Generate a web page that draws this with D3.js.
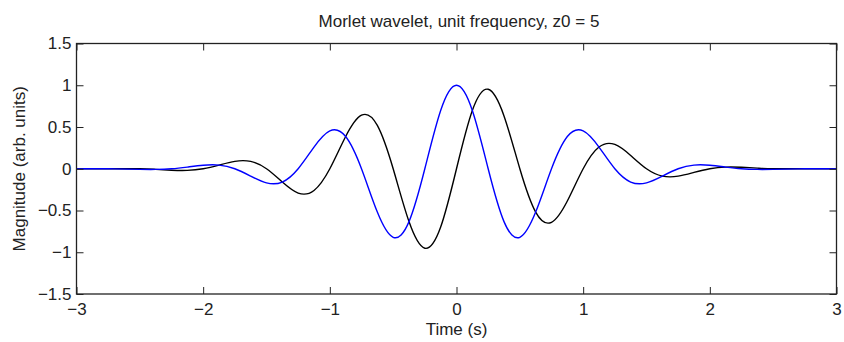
<!DOCTYPE html>
<html>
<head>
<meta charset="utf-8">
<script src="https://cdn.jsdelivr.net/npm/d3@7"></script>
<style>
  body { margin: 0; background: #fff; }
  text { font-family: "Liberation Sans", Arial, sans-serif; fill: #222; }
  .axis path { display: none; }
  .axis line { stroke: #222; stroke-width: 1; }
</style>
</head>
<body>
<script>
/** data */
var time = [-3, -2.75, -2.5, -2.375, -2.25, -2.125, -2, -1.875, -1.75, -1.625, -1.5, -1.375, -1.25, -1.125,
    -1, -0.875, -0.75, -0.625, -0.5, -0.375, -0.25, -0.125, 0, 0.125, 0.25, 0.375, 0.5, 0.625, 0.75, 0.875,
    1, 1.125, 1.25, 1.375, 1.5, 1.625, 1.75, 1.875, 2, 2.125, 2.25, 2.375, 2.5, 2.75, 3];

// blue curve (real part)
var realPart = [0, 0, -0.007, -0.008, 0, 0.02, 0.042, 0.044, 0, -0.088, -0.169, -0.159, 0, 0.26,
    0.454, 0.386, 0, -0.519, -0.821, -0.633, 0, 0.698, 1, 0.698, 0, -0.633, -0.821, -0.519, 0, 0.386,
    0.454, 0.26, 0, -0.159, -0.169, -0.088, 0, 0.044, 0.042, 0.02, 0, -0.008, -0.007, 0, 0];

// black curve (imaginary part)
var imagPart = [0, 0, 0, -0.008, -0.018, -0.02, 0, 0.044, 0.089, 0.088, 0, -0.159, -0.291, -0.26,
    0, 0.386, 0.641, 0.519, 0, -0.633, -0.952, -0.698, 0, 0.698, 0.952, 0.633, 0, -0.519, -0.641, -0.386,
    0, 0.26, 0.291, 0.159, 0, -0.088, -0.089, -0.044, 0, 0.02, 0.018, 0.008, 0, 0, 0];

var xTicks = [-3, -2, -1, 0, 1, 2, 3];
var yTicks = [-1.5, -1, -0.5, 0, 0.5, 1, 1.5];

var title = "Morlet wavelet, unit frequency, z0 = 5";
var xLabel = "Time (s)";
var yLabel = "Magnitude (arb. units)";

/** sizes and scales */
var margin = { top: 43.5, right: 7.5, bottom: 48, left: 76.5 },
    width = 844 - margin.left - margin.right,
    height = 342 - margin.top - margin.bottom;

var x = d3.scaleLinear().domain([-3, 3]).range([0, width]);
var y = d3.scaleLinear().domain([-1.5, 1.5]).range([height, 0]);

var fmt = function (d) { return d3.format("")(d).replace("-", "\u2212"); };

var svg = d3.select("body").append("svg")
    .attr("width", 844)
    .attr("height", 342);

var g = svg.append("g")
    .attr("transform", "translate(" + margin.left + "," + margin.top + ")");

/** curves */
var line = d3.line()
    .x(function (d, i) { return x(time[i]); })
    .y(function (d) { return y(d); })
    .curve(d3.curveNatural);

g.append("path")
    .datum(imagPart)
    .attr("d", line)
    .attr("fill", "none")
    .attr("stroke", "#000")
    .attr("stroke-width", 1.4);

g.append("path")
    .datum(realPart)
    .attr("d", line)
    .attr("fill", "none")
    .attr("stroke", "#0000ff")
    .attr("stroke-width", 1.4);

/** axes, ticks pointing inwards */
g.append("g").attr("class", "x axis")
    .attr("transform", "translate(0," + height + ")")
    .call(d3.axisBottom(x).tickValues(xTicks).tickFormat(fmt).tickSizeInner(-7).tickSizeOuter(0).tickPadding(9));

g.append("g").attr("class", "axis")
    .call(d3.axisTop(x).tickValues(xTicks).tickFormat("").tickSizeInner(-7).tickSizeOuter(0));

g.append("g").attr("class", "y axis")
    .call(d3.axisLeft(y).tickValues(yTicks).tickFormat(fmt).tickSizeInner(-7).tickSizeOuter(0).tickPadding(5));

g.append("g").attr("class", "axis")
    .attr("transform", "translate(" + width + ",0)")
    .call(d3.axisRight(y).tickValues(yTicks).tickFormat("").tickSizeInner(-7).tickSizeOuter(0));

g.selectAll(".axis text")
    .style("font-size", "17px")
    .attr("fill", "#222");

// box
g.append("rect")
    .attr("width", width)
    .attr("height", height)
    .attr("fill", "none")
    .attr("stroke", "#222")
    .attr("stroke-width", 1.3);

/** labels */
svg.append("text")
    .attr("x", 459)
    .attr("y", 27)
    .attr("text-anchor", "middle")
    .style("font-size", "17px")
    .text(title);

svg.append("text")
    .attr("x", margin.left + width / 2)
    .attr("y", 335)
    .attr("text-anchor", "middle")
    .style("font-size", "17px")
    .text(xLabel);

svg.append("text")
    .attr("transform", "translate(25," + (margin.top + height / 2) + ") rotate(-90)")
    .attr("text-anchor", "middle")
    .style("font-size", "17px")
    .text(yLabel);
</script>
</body>
</html>
